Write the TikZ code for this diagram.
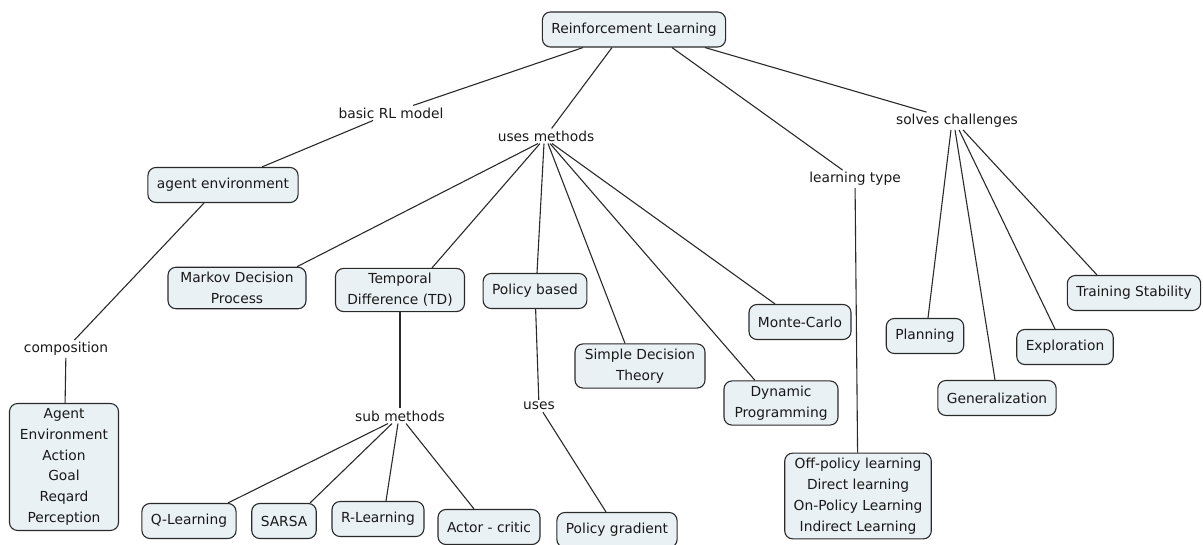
\documentclass[tikz,border=0pt]{standalone}
\usepackage{fontspec}
\setmainfont{DejaVu Sans}
\definecolor{boxfill}{HTML}{EAF1F4}
\definecolor{linecol}{HTML}{2A2A2A}
\begin{document}
\begin{tikzpicture}[x=1pt,y=-1pt,
  box/.style={draw=linecol, line width=1.1pt, fill=boxfill, rounded corners=8pt,
    align=center, inner xsep=9pt, inner ysep=5pt, minimum height=35pt,
    font=\fontsize{13.8}{20.8}\selectfont, text=black!90},
  lab/.style={inner sep=2pt, font=\fontsize{13.8}{16}\selectfont, text=black!90},
  con/.style={draw=linecol, line width=1.1pt}]
\path[use as bounding box] (0,0) rectangle (1203,545);

% nodes
\node[box] (rl) at (634,29.5) {Reinforcement Learning};
\node[lab] (basic) at (391,113) {basic RL model};
\node[lab] (uses) at (546,136) {uses methods};
\node[lab] (ltype) at (855,179) {learning type};
\node[lab] (solves) at (957,121) {solves challenges};

\node[box] (agenv) at (223,185) {agent environment};
\node[lab] (comp) at (66,349) {composition};
\node[box, minimum width=109pt] (agent) at (64,467) {Agent\\Environment\\Action\\Goal\\Reqard\\Perception};

\node[box, minimum width=138pt] (mdp) at (237,288) {Markov Decision\\Process};
\node[box, minimum width=129pt] (td) at (400,290) {Temporal\\Difference (TD)};
\node[box] (pb) at (535,291) {Policy based};
\node[box, minimum width=130pt] (sdt) at (640,366) {Simple Decision\\Theory};
\node[box, minimum width=114pt] (dp) at (781,403) {Dynamic\\Programming};
\node[box] (mc) at (800,322) {Monte-Carlo};

\node[lab] (sub) at (400,416) {sub methods};
\node[lab] (uses2) at (539,406) {uses};
\node[box] (ql) at (189,521) {Q-Learning};
\node[box] (sarsa) at (284,521) {SARSA};
\node[box] (rlearn) at (378,519) {R-Learning};
\node[box] (ac) at (489,527) {Actor - critic};
\node[box] (pg) at (617,530) {Policy gradient};

\node[box] (off) at (858,496) {Off-policy learning\\Direct learning\\On-Policy Learning\\Indirect Learning};

\node[box] (plan) at (925,336) {Planning};
\node[box] (gen) at (997,398) {Generalization};
\node[box] (expl) at (1065,347) {Exploration};
\node[box] (ts) at (1134,293) {Training Stability};

% connectors
\draw[con] ([xshift=-51]rl.south) -- (basic);
\draw[con] (basic) -- ([xshift=39]agenv.north);
\draw[con] ([xshift=-22]rl.south) -- (uses);
\draw[con] ([xshift=38]rl.south) -- (ltype);
\draw[con] ([xshift=71]rl.south) -- (solves);

\draw[con] ([xshift=-19]agenv.south) -- (comp);
\draw[con] (comp) -- (agent);

\draw[con] ([xshift=-8]uses.south) -- ([xshift=60]mdp.north);
\draw[con] ([xshift=-6]uses.south) -- ([xshift=32]td.north);
\draw[con] ([xshift=-2]uses.south) -- ([xshift=2]pb.north);
\draw[con] ([xshift=2]uses.south) -- ([xshift=-15]sdt.north);
\draw[con] ([xshift=4]uses.south) -- ([xshift=-26]dp.north);
\draw[con] ([xshift=6]uses.south) -- ([xshift=-25]mc.north);

\draw[con] (td) -- (sub);
\draw[con] ([xshift=-12]sub.south) -- ([xshift=39]ql.north);
\draw[con] ([xshift=-8]sub.south) -- ([xshift=26]sarsa.north);
\draw[con] ([xshift=-2]sub.south) -- ([xshift=8]rlearn.north);
\draw[con] ([xshift=6]sub.south) -- ([xshift=-15]ac.north);

\draw[con] (pb) -- (uses2);
\draw[con] (uses2) -- ([xshift=-11]pg.north);

\draw[con] (ltype) -- (off);

\draw[con] ([xshift=-6]solves.south) -- ([xshift=3]plan.north);
\draw[con] ([xshift=-2]solves.south) -- ([xshift=-2]gen.north);
\draw[con] ([xshift=2]solves.south) -- ([xshift=-10]expl.north);
\draw[con] ([xshift=6]solves.south) -- ([xshift=-37]ts.north);
\end{tikzpicture}
\end{document}
